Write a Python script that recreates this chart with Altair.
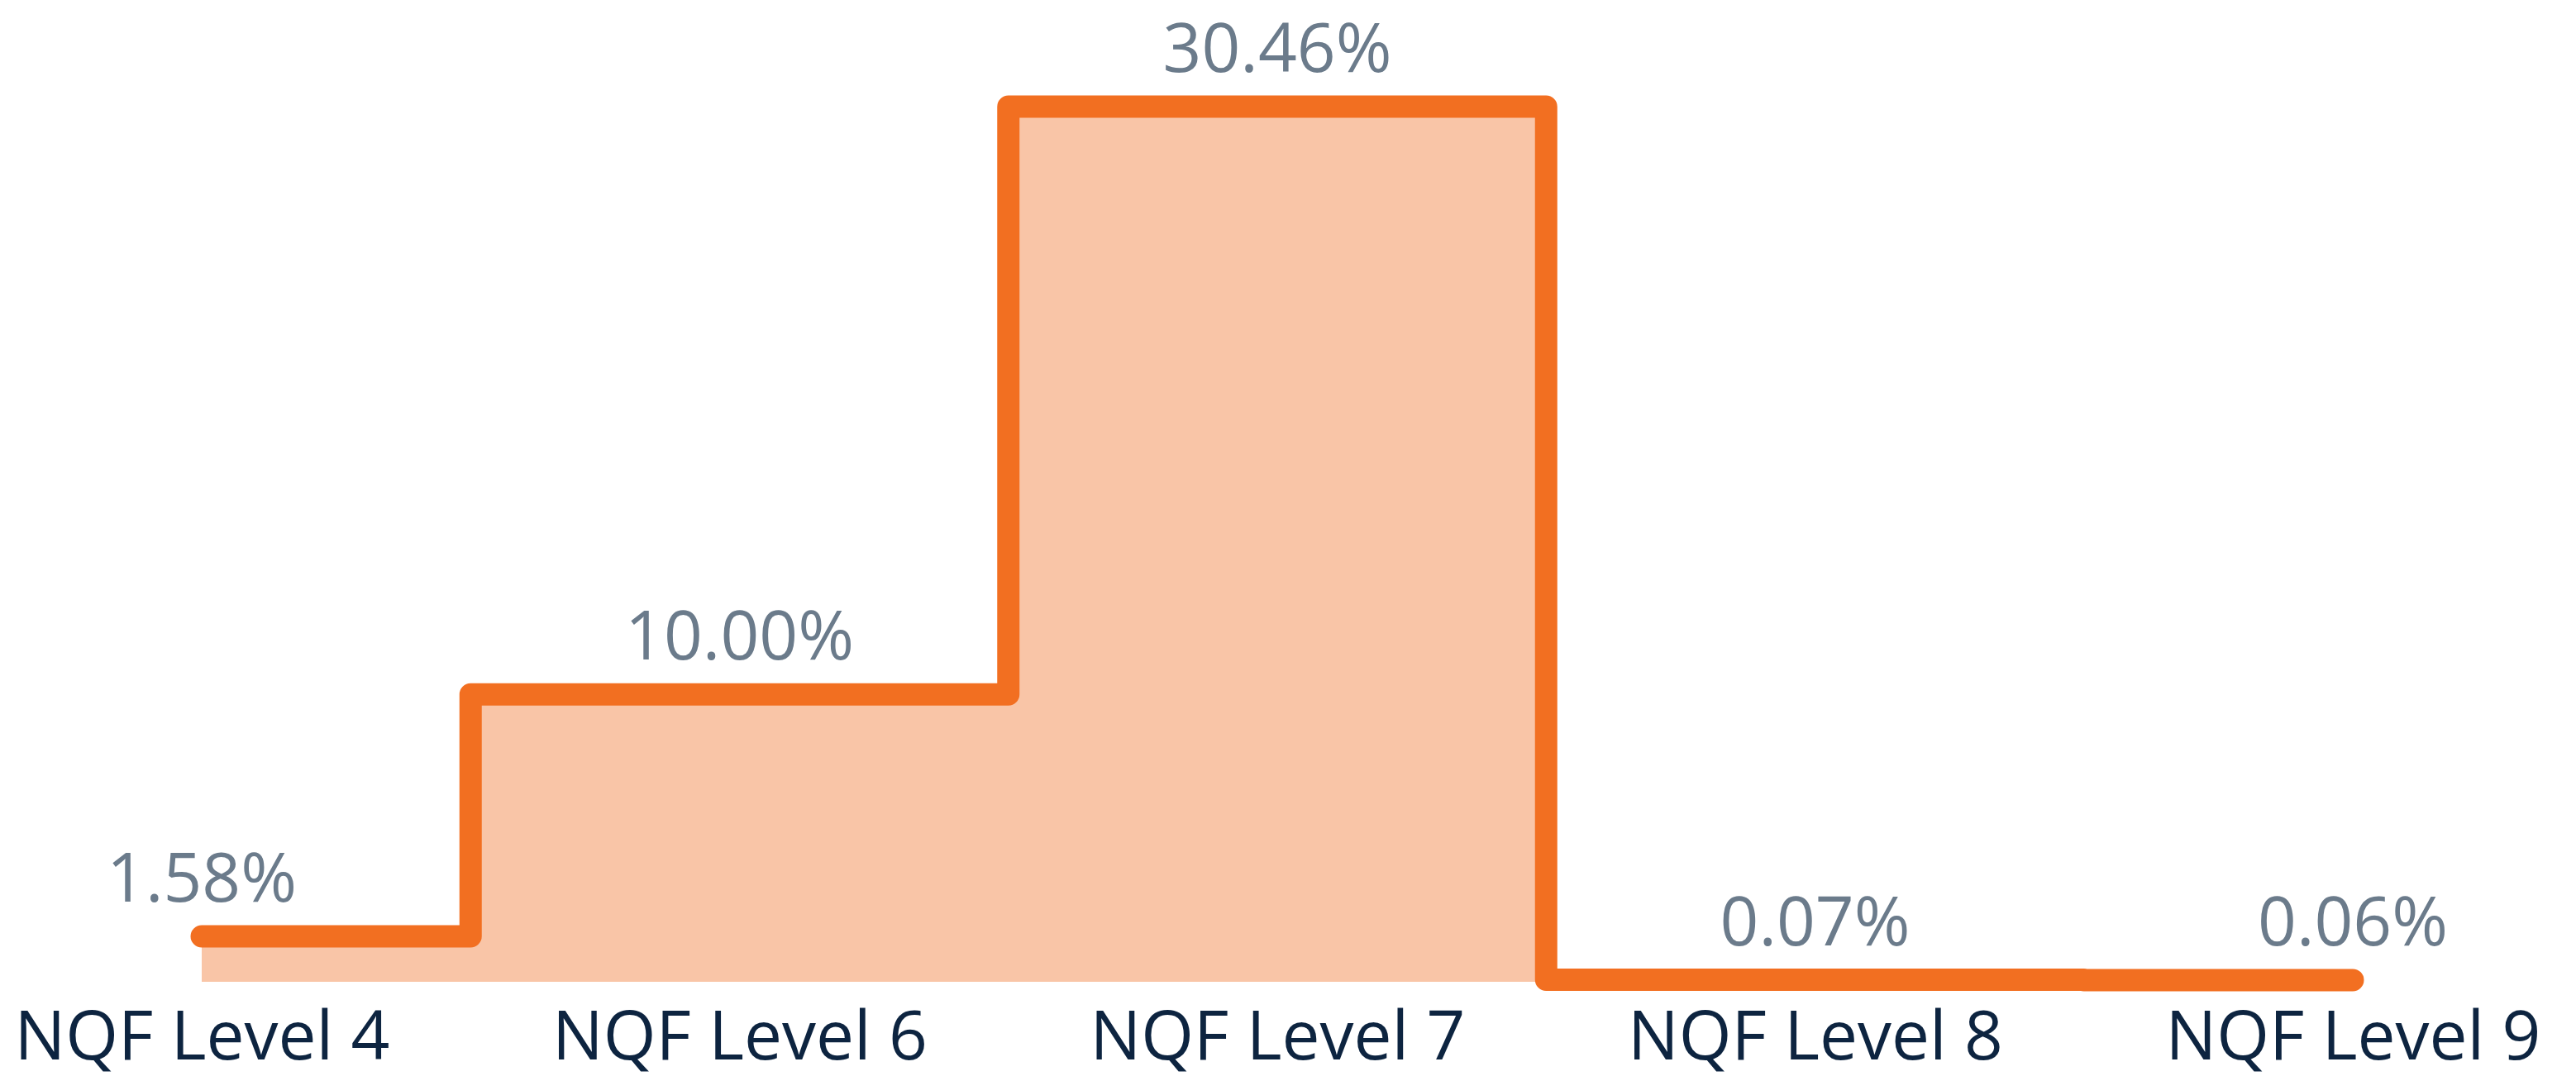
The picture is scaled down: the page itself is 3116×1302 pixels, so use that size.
import altair as alt
import pandas as pd

categories = ["NQF Level 4", "NQF Level 6", "NQF Level 7", "NQF Level 8", "NQF Level 9"]
values = [1.58, 10.00, 30.46, 0.07, 0.06]
labels = [f"{v:.2f}%" for v in values]

df = pd.DataFrame({"cat": categories, "val": values, "label": labels})

LINE = "#F26F21"
FILL = "#F9C5A7"
GRAY = "#6B7B8B"
NAVY = "#0D2440"
FONT = "Open Sans"

x = alt.X("cat:N", sort=categories,
          scale=alt.Scale(type="point", padding=0.3628),
          axis=alt.Axis(title=None, labelAngle=0, domain=False, ticks=False,
                        labelFontSize=82, labelFont=FONT, labelColor=NAVY,
                        labelPadding=28, grid=False, labelOverlap=False,
                        labelLimit=2000))
y = alt.Y("val:Q", scale=alt.Scale(domain=[0, 33.94], nice=False, zero=True), axis=None)

base = alt.Chart(df).encode(x=x, y=y)

area = base.mark_area(interpolate="step", color=FILL, opacity=1)
line = base.mark_line(interpolate="step", color=LINE, strokeWidth=27,
                      strokeCap="round", strokeJoin="round")
text = base.mark_text(baseline="alphabetic", dy=-42, fontSize=82, font=FONT,
                      color=GRAY).encode(text="label:N")

chart = (area + line + text).properties(
    width=3074, height=1180,
    background="white",
    autosize=alt.AutoSizeParams(type="none"),
    padding={"left": 0, "top": 0, "right": 0, "bottom": 114},
).configure_view(stroke="transparent", strokeWidth=0)

chart.save("out.html", embed_options={"renderer": "svg", "actions": False})
